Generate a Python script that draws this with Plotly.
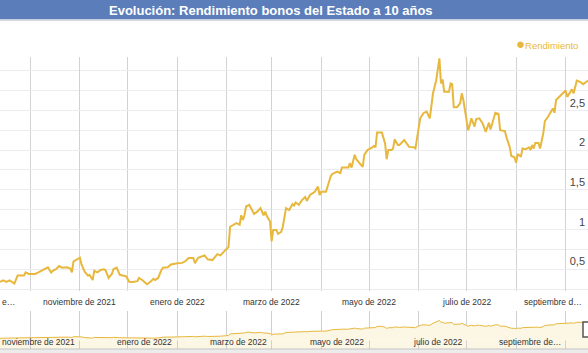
import plotly.graph_objects as go

# ---- data -------------------------------------------------------------
dates = [
    "2021-09-12", "2021-09-14", "2021-09-16", "2021-09-18", "2021-09-21", "2021-09-23", "2021-09-27",
    "2021-09-28", "2021-09-30", "2021-10-02", "2021-10-04", "2021-10-06", "2021-10-09", "2021-10-12",
    "2021-10-14", "2021-10-15", "2021-10-17", "2021-10-19", "2021-10-21", "2021-10-24", "2021-10-26",
    "2021-10-27", "2021-10-28", "2021-10-30", "2021-11-01", "2021-11-02", "2021-11-04", "2021-11-06",
    "2021-11-07", "2021-11-09", "2021-11-10", "2021-11-12", "2021-11-14", "2021-11-16", "2021-11-17",
    "2021-11-19", "2021-11-21", "2021-11-22", "2021-11-24", "2021-11-26", "2021-11-28", "2021-11-30",
    "2021-12-02", "2021-12-04", "2021-12-07", "2021-12-08", "2021-12-10", "2021-12-13", "2021-12-15",
    "2021-12-17", "2021-12-18", "2021-12-20", "2021-12-22", "2021-12-23", "2021-12-26", "2021-12-28",
    "2022-01-01", "2022-01-04", "2022-01-06", "2022-01-08", "2022-01-11", "2022-01-12", "2022-01-14",
    "2022-01-18", "2022-01-20", "2022-01-23", "2022-01-26", "2022-01-28", "2022-01-31", "2022-02-02",
    "2022-02-03", "2022-02-05", "2022-02-07", "2022-02-09", "2022-02-10", "2022-02-11", "2022-02-12",
    "2022-02-13", "2022-02-15", "2022-02-18", "2022-02-20", "2022-02-22", "2022-02-24", "2022-02-25",
    "2022-02-26", "2022-02-28", "2022-03-01", "2022-03-02", "2022-03-04", "2022-03-05", "2022-03-07",
    "2022-03-08", "2022-03-10", "2022-03-12", "2022-03-14", "2022-03-15", "2022-03-16", "2022-03-18",
    "2022-03-20", "2022-03-22", "2022-03-23", "2022-03-25", "2022-03-28", "2022-03-30", "2022-03-31",
    "2022-04-01", "2022-04-04", "2022-04-07", "2022-04-08", "2022-04-11", "2022-04-13", "2022-04-14",
    "2022-04-18", "2022-04-19", "2022-04-20", "2022-04-22", "2022-04-23", "2022-04-25", "2022-04-27",
    "2022-04-28", "2022-04-30", "2022-05-03", "2022-05-04", "2022-05-05", "2022-05-06", "2022-05-09",
    "2022-05-11", "2022-05-12", "2022-05-13", "2022-05-15", "2022-05-16", "2022-05-17", "2022-05-19",
    "2022-05-20", "2022-05-23", "2022-05-26", "2022-05-29", "2022-05-30", "2022-05-31", "2022-06-02",
    "2022-06-04", "2022-06-06", "2022-06-08", "2022-06-10", "2022-06-12", "2022-06-13", "2022-06-14",
    "2022-06-15", "2022-06-16", "2022-06-17", "2022-06-20", "2022-06-21", "2022-06-22", "2022-06-23",
    "2022-06-25", "2022-06-27", "2022-06-28", "2022-06-29", "2022-07-01", "2022-07-02", "2022-07-03",
    "2022-07-04", "2022-07-06", "2022-07-07", "2022-07-09", "2022-07-11", "2022-07-13", "2022-07-15",
    "2022-07-16", "2022-07-18", "2022-07-19", "2022-07-21", "2022-07-22", "2022-07-25", "2022-07-26",
    "2022-07-28", "2022-07-29", "2022-07-31", "2022-08-01", "2022-08-02", "2022-08-04", "2022-08-05",
    "2022-08-07", "2022-08-09", "2022-08-10", "2022-08-11", "2022-08-12", "2022-08-13", "2022-08-15",
    "2022-08-16", "2022-08-18", "2022-08-19", "2022-08-21", "2022-08-24", "2022-08-25", "2022-08-26",
    "2022-08-28", "2022-08-31", "2022-09-01", "2022-09-02", "2022-09-04", "2022-09-05", "2022-09-06",
    "2022-09-08", "2022-09-10", "2022-09-12", "2022-09-14", "2022-09-15",
]

rendimiento = [
    0.34, 0.36, 0.34, 0.36, 0.32, 0.42, 0.42,
    0.46, 0.44, 0.44, 0.44, 0.46, 0.49, 0.525,
    0.457, 0.48, 0.50, 0.54, 0.52, 0.525, 0.51,
    0.46, 0.60, 0.62, 0.645, 0.56, 0.47, 0.42,
    0.43, 0.365, 0.48, 0.46, 0.49, 0.50, 0.49,
    0.39, 0.44, 0.50, 0.52, 0.43, 0.42, 0.41,
    0.34, 0.34, 0.35, 0.39, 0.365, 0.31, 0.34,
    0.38, 0.365, 0.39, 0.49, 0.52, 0.525, 0.56,
    0.575, 0.58, 0.60, 0.64, 0.64, 0.575, 0.645,
    0.675, 0.625, 0.615, 0.69, 0.675, 0.74, 0.78,
    1.035, 1.06, 1.08, 1.06, 1.18, 1.12, 1.18,
    1.29, 1.31, 1.195, 1.225, 1.27, 1.18, 1.225,
    1.17, 1.10, 0.85, 0.995, 0.995, 0.945, 0.97,
    1.035, 1.27, 1.245, 1.32, 1.30, 1.34, 1.31,
    1.37, 1.41, 1.36, 1.435, 1.475, 1.54, 1.435,
    1.475, 1.475, 1.67, 1.70, 1.73, 1.71, 1.78,
    1.78, 1.835, 1.78, 1.94, 1.885, 1.835, 1.79,
    1.94, 2.00, 2.035, 2.05, 2.035, 2.22, 2.22,
    2.085, 1.885, 2.00, 2.00, 2.02, 2.135, 2.065,
    2.065, 2.125, 2.04, 2.035, 2.02, 2.15, 2.40,
    2.465, 2.485, 2.40, 2.715, 2.88, 3.03, 3.155,
    2.84, 2.89, 2.735, 2.735, 2.84, 2.83, 2.54,
    2.54, 2.59, 2.715, 2.63, 2.36, 2.25, 2.315,
    2.40, 2.295, 2.39, 2.40, 2.34, 2.23, 2.345,
    2.26, 2.40, 2.47, 2.455, 2.25, 2.24, 2.16,
    2.04, 1.925, 1.91, 1.84, 1.95, 1.915, 2.02,
    2.01, 2.035, 2.00, 2.065, 2.02, 2.09, 2.09,
    2.02, 2.21, 2.365, 2.42, 2.525, 2.47, 2.63,
    2.67, 2.72, 2.75, 2.67, 2.735, 2.765, 2.715,
    2.875, 2.86, 2.83, 2.86, 2.875,
]

x_range = ["2021-09-12", "2022-09-15"]
main_tick_dates = ["2021-11-01", "2022-01-01", "2022-03-01", "2022-05-01", "2022-07-01", "2022-09-01"]
main_tick_labels = ["noviembre de 2021", "enero de 2022", "marzo de 2022",
                    "mayo de 2022", "julio de 2022", "septiembre d\u2026"]
nav_tick_labels = ["noviembre de 2021", "enero de 2022", "marzo de 2022",
                   "mayo de 2022", "julio de 2022", "septiembre de\u2026"]
y_tick_vals = [0.5, 1, 1.5, 2, 2.5]

title_text = "Evolución: Rendimiento bonos del Estado a 10 años"
series_name = "Rendimiento"

# ---- style ------------------------------------------------------------
W, H = 588, 353
GOLD = "#E7B83D"
CREAM = "#FCF6E4"
FONT = "Liberation Sans, Arial, sans-serif"
Y_RANGE = [0.226, 3.172]
NAV_Y_RANGE = [-1.35, 4.65]


def py(px):
    return 1 - px / H


def pxx(px):
    return px / W


fig = go.Figure()

fig.add_trace(go.Scatter(
    x=dates, y=rendimiento, mode="lines", name=series_name,
    line=dict(color=GOLD, width=2), xaxis="x", yaxis="y",
    hoverinfo="skip",
))
fig.add_trace(go.Scatter(
    x=dates, y=rendimiento, mode="lines", name=series_name,
    line=dict(color=GOLD, width=1), fill="tozeroy", fillcolor=CREAM,
    xaxis="x2", yaxis="y2", hoverinfo="skip",
))

fig.update_layout(
    width=W, height=H,
    margin=dict(l=0, r=0, t=0, b=0),
    paper_bgcolor="white", plot_bgcolor="white",
    showlegend=False,
    separators=",.",
    font=dict(family=FONT, color="#333"),
    xaxis=dict(
        domain=[0, 1], anchor="y", type="date", range=x_range,
        tickmode="array", tickvals=main_tick_dates, showticklabels=False, ticks="",
        showgrid=True, gridcolor="#d2d2d2", gridwidth=1,
        minor=dict(dtick="M1", tick0="2021-10-01", showgrid=True, gridcolor="#d2d2d2"),
        zeroline=False, showline=False, fixedrange=True,
    ),
    yaxis=dict(
        domain=[py(291), py(57)], anchor="x", range=Y_RANGE,
        side="right", ticklabelposition="inside top",
        tickmode="array", tickvals=y_tick_vals,
        tickfont=dict(size=11, color="#444"), ticks="",
        showgrid=True, gridcolor="#ebebf0",
        minor=dict(dtick=0.25, tick0=0, showgrid=True, gridcolor="#ebebf0"),
        zeroline=False, showline=False,
    ),
    xaxis2=dict(
        domain=[0, 1], anchor="y2", type="date", range=x_range,
        tickmode="array", tickvals=main_tick_dates, showticklabels=False, ticks="",
        showgrid=True, gridcolor="#cfcfcf",
        minor=dict(dtick="M1", tick0="2021-10-01", showgrid=True, gridcolor="#cfcfcf"),
        zeroline=False, showline=False,
    ),
    yaxis2=dict(
        domain=[py(349), py(311)], anchor="x2", range=NAV_Y_RANGE,
        showgrid=False, showticklabels=False, zeroline=False, ticks="",
    ),
)

shapes = [
    # title bar
    dict(type="rect", xref="paper", yref="paper", x0=0, x1=1, y0=py(19.5), y1=1,
         fillcolor="#5B7EBB", line=dict(width=0), layer="above"),
    dict(type="rect", xref="paper", yref="paper", x0=0, x1=1, y0=py(21), y1=py(19.5),
         fillcolor="#d9dce2", line=dict(width=0), layer="above"),
    # navigator fill below zero line of navigator axis
    dict(type="rect", xref="x2 domain", yref="y2", x0=0, x1=1, y0=NAV_Y_RANGE[0], y1=0,
         fillcolor=CREAM, line=dict(width=0), layer="below"),
    # bottom border
    dict(type="rect", xref="paper", yref="paper", x0=0, x1=1, y0=0, y1=py(349),
         fillcolor="#ececec", line=dict(width=0), layer="above"),
    dict(type="line", xref="paper", yref="paper", x0=0, x1=1, y0=py(349), y1=py(349),
         line=dict(color="#c4c4c4", width=1), layer="above"),
    # range handle at right
    dict(type="rect", xref="paper", yref="paper", x0=pxx(583), x1=pxx(592),
         y0=py(337), y1=py(322), fillcolor="white", line=dict(color="#555", width=1.5),
         layer="above"),
]

annotations = [
    dict(text="<b>" + title_text + "</b>", xref="paper", yref="paper",
         x=pxx(271), y=py(10), xanchor="center", yanchor="middle", showarrow=False,
         font=dict(size=13, color="white", family=FONT)),
    dict(text="<span style='font-size:15px'>\u25cf</span>" + series_name,
         xref="paper", yref="paper", x=pxx(580), y=py(43), xanchor="right",
         yanchor="middle", showarrow=False, font=dict(size=9.5, color=GOLD, family=FONT)),
    dict(text="e\u2026", xref="paper", yref="paper", x=0, y=py(302),
         xanchor="left", yanchor="middle", showarrow=False,
         font=dict(size=8.5, color="#333", family=FONT)),
]
# main axis labels (centered on their month gridline; last one kept inside the edge)
n_main = len(main_tick_dates)
for i, (d, lab) in enumerate(zip(main_tick_dates, main_tick_labels)):
    last = i == n_main - 1
    annotations.append(dict(
        text=lab, xref="x", yref="paper", x=d, y=py(302),
        xanchor="right" if last else "center", xshift=18 if last else 0,
        yanchor="middle", showarrow=False,
        font=dict(size=8.5, color="#333", family=FONT)))
# navigator labels (right-aligned before their gridline)
for d, lab in zip(main_tick_dates, nav_tick_labels):
    annotations.append(dict(
        text=lab, xref="x2", yref="paper", x=d, y=py(341.5), xanchor="right",
        yanchor="middle", xshift=-3, showarrow=False,
        font=dict(size=8.5, color="#333", family=FONT)))

fig.update_layout(shapes=shapes, annotations=annotations)

fig.write_html("out.html")
